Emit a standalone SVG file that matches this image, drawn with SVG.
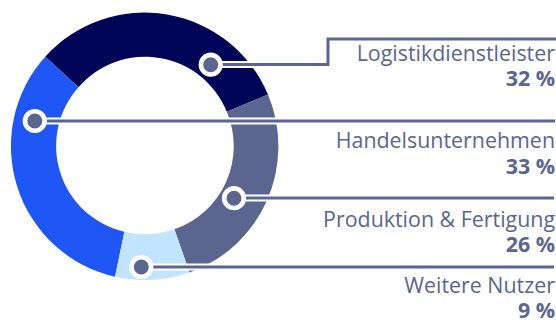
<svg xmlns="http://www.w3.org/2000/svg" width="556" height="320" viewBox="0 0 556 320">
<style>
.halo{fill:none;stroke:#fff;stroke-width:7}
.line{fill:none;stroke:#5a6690;stroke-width:3}
.dot{fill:#5a6690;stroke:#fff;stroke-width:4.600}
text{font-family:"Open Sans",sans-serif;fill:#5a6690;text-anchor:end}
.n{font-size:21.4px}
.v{font-size:21.4px;font-weight:700}
</style>
<g id="ring">
<path id="seg-logistik" fill="#000557" d="M45.2 56.700A134 134 0 0 1 268 94.500L226.800 111.800A88 88 0 0 0 78.500 87.300Z"/>
<path id="seg-handel" fill="#1f57f7" d="M45.200 56.700L78.500 87.300A88 88 0 0 0 124.400 231.700L115 276.800A134 134 0 0 1 45.200 56.700Z"/>
<path id="seg-produktion" fill="#5a6690" d="M268 94.500A134 134 0 0 1 189.500 272.500L174.400 229.300A88 88 0 0 0 226.800 111.800Z"/>
<path id="seg-weitere" fill="#c2e5ff" d="M124.400 231.700A88 88 0 0 0 174.400 229.300L189.500 272.500A134 134 0 0 1 115 276.800Z"/>
</g>
<g id="connectors">
<path class="halo" d="M210.500 64.500H328V39H556M35 121H555M233.500 198H554M141 267H554"/>
<path class="line" d="M210.500 64.500H328V39H556M35 121H555M233.500 198H554M141 267H554"/>
</g>
<g id="node-logistik"><circle class="dot" cx="210.700" cy="64.700" r="9.800"/><text class="n" x="555" y="61">Logistikdienstleister</text><text class="v" x="555" y="86">32 %</text></g>
<g id="node-handel"><circle class="dot" cx="34.800" cy="121" r="9.800"/><text class="n" x="555" y="147.500">Handelsunternehmen</text><text class="v" x="555" y="174">33 %</text></g>
<g id="node-produktion"><circle class="dot" cx="234" cy="198.200" r="9.800"/><text class="n" x="555" y="226.500">Produktion &amp; Fertigung</text><text class="v" x="555" y="252">26 %</text></g>
<g id="node-weitere"><circle class="dot" cx="141.300" cy="267" r="9.800"/><text class="n" x="555" y="292.500">Weitere Nutzer</text><text class="v" x="555" y="318">9 %</text></g>
</svg>
